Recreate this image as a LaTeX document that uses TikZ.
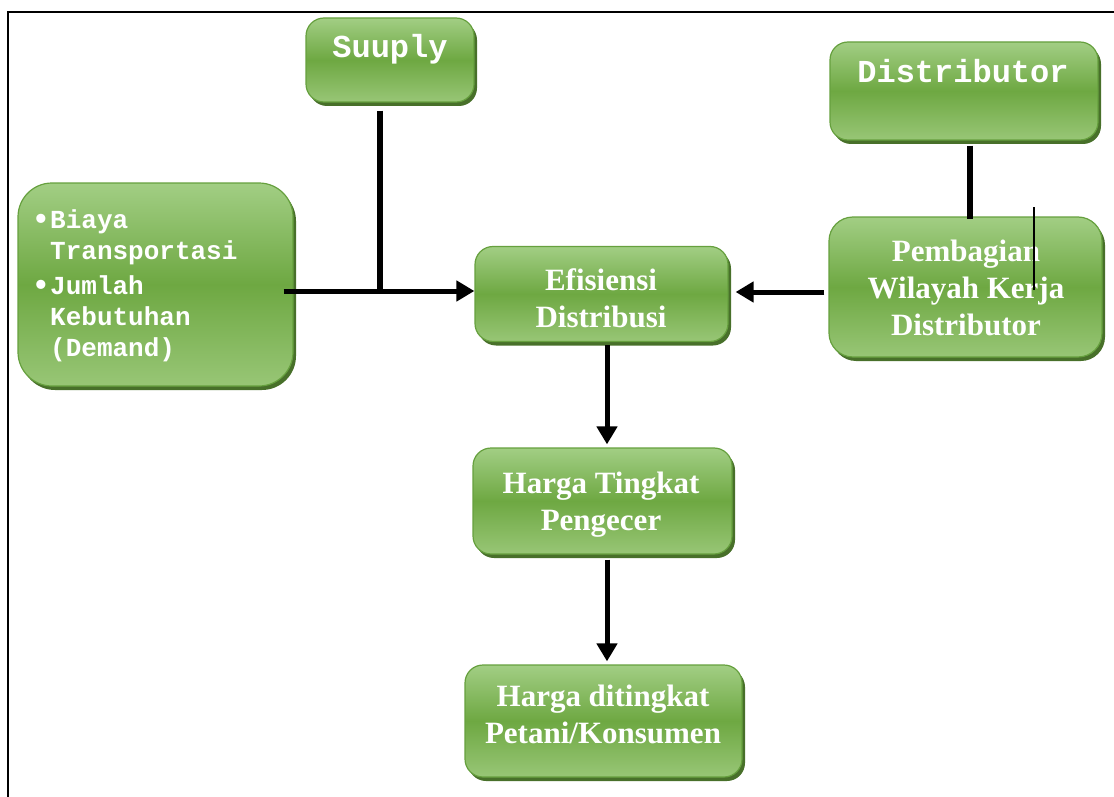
\documentclass[tikz,border=0pt]{standalone}
\usepackage{fontspec}
\setmainfont{Liberation Serif}
\setmonofont{Liberation Mono}
\newfontfamily\bulletfont{DejaVu Sans}
\usetikzlibrary{arrows.meta,shadows,calc}
\definecolor{gTop}{RGB}{162,206,132}
\definecolor{gMid}{RGB}{110,168,66}
\definecolor{gBot}{RGB}{152,198,118}
\definecolor{gEdge}{RGB}{102,160,62}
\definecolor{gShadow}{RGB}{72,112,42}
\newcommand{\bulletmark}{\llap{{\bulletfont\fontsize{26}{26}\selectfont\textbullet}\hspace{1pt}}}
\begin{document}
\begin{tikzpicture}[x=1pt,y=-1pt,
  box/.style={rectangle, rounded corners=18pt, draw=gEdge, line width=1.2pt,
    top color=gTop, bottom color=gBot, middle color=gMid,
    general shadow={fill=gShadow, shadow xshift=3pt, shadow yshift=-4pt},
    inner sep=0pt},
  seriflabel/.style={text=white, font=\fontsize{31}{37}\selectfont\bfseries, align=center, inner sep=0pt, anchor=base},
  monolabel/.style={text=white, font=\fontsize{32}{37}\selectfont\ttfamily\bfseries, inner sep=0pt, anchor=base},
  link/.style={line width=6.5pt},
  arrowline/.style={line width=5pt, -{Triangle[length=18pt,width=20pt]}},
  frameline/.style={line width=2pt},
]
\useasboundingbox (0,0) rectangle (1114,797);

% frame
\coordinate (fBL) at (8,797);
\coordinate (fTL) at (8,12);
\coordinate (fTR) at (1114,12);
\draw[frameline] (fBL) -- (fTL) -- (fTR);

% boxes
\node[box, minimum width=168pt, minimum height=84pt] (suuply) at (390,60) {};
\node[box, minimum width=268pt, minimum height=98pt] (distr) at (964,91) {};
\node[box, minimum width=273pt, minimum height=140pt, rounded corners=24pt] (pemb) at (965.5,287) {};
\node[box, minimum width=275pt, minimum height=203pt, rounded corners=34pt] (left) at (155.5,284.5) {};
\node[box, minimum width=253pt, minimum height=95pt] (eff) at (601.5,294) {};
\node[box, minimum width=259pt, minimum height=106pt] (hts) at (602.5,501) {};
\node[box, minimum width=277pt, minimum height=112pt] (htp) at (603.5,721) {};

% labels (anchor base = baseline of the last line)
\node[monolabel] (suuplyT) at (390,58) {Suuply};
\node[monolabel] (distrT) at (963,83) {Distributor};
\node[seriflabel] (pembT) at (966,335) {Pembagian\\Wilayah Kerja\\Distributor};
\node[seriflabel] (effT) at (601,327) {Efisiensi\\Distribusi};
\node[seriflabel] (htsT) at (601,530) {Harga Tingkat\\Pengecer};
\node[seriflabel] (htpT) at (603,743) {Harga ditingkat\\Petani/Konsumen};
\node[text=white, font=\fontsize{26}{31}\selectfont\ttfamily\bfseries, align=left, inner sep=0pt, anchor=base west] (leftT) at (50,356)
  {\bulletmark Biaya\\
   Transportasi\\[4pt]
   \bulletmark Jumlah\\
   Kebutuhan\\
   (Demand)};

% connectors
\coordinate (j) at (380,291);
\draw[link] ($(j |- suuply.south)+(0,8)$) -- ($(j)+(0,3)$);
\draw[arrowline] ($(j -| left.east)+(-10,0)$) -- (j) -- (j -| eff.west);
\draw[arrowline] ($(pemb.west)+(-4,5)$) -- ($(eff.east)+(7,-2)$);
\draw[link] ($(distr.south)+(6,5)$) -- ($(distr.south |- pemb.north)+(6,3)$);
\draw[arrowline] ($(eff.south)+(5.5,3)$) -- ($(eff.south |- hts.north)+(5.5,-3)$);
\draw[arrowline] ($(hts.south)+(4.5,5)$) -- ($(hts.south |- htp.north)+(4.5,-3)$);

% stray thin line
\coordinate (s1) at (1034,207);
\coordinate (s2) at (1034,290);
\draw[line width=1.3pt] (s1) -- (s2);
\end{tikzpicture}
\end{document}
